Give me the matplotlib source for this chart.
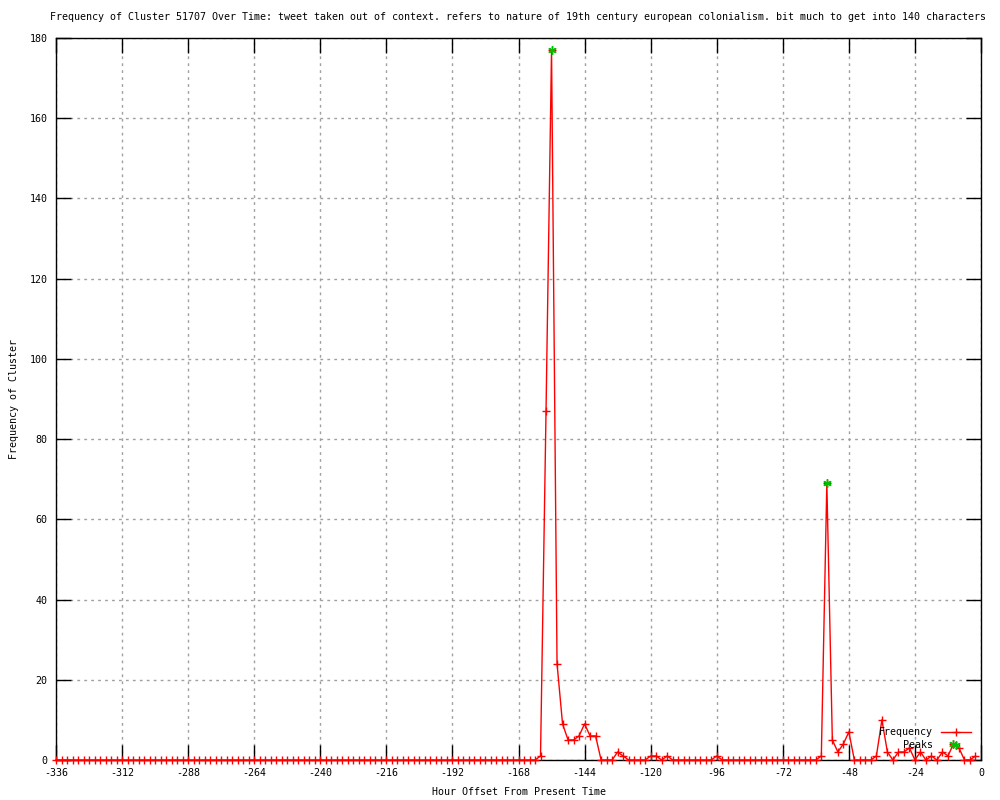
import numpy as np
import matplotlib.pyplot as plt

# hourly buckets, two hours apart, from -336 up to -2
hours = np.arange(-336, 0, 2)

# frequency per bucket, one row per 24 hours
freq = [
    0, 0, 0, 0, 0, 0, 0, 0, 0, 0, 0, 0,          # -336
    0, 0, 0, 0, 0, 0, 0, 0, 0, 0, 0, 0,          # -312
    0, 0, 0, 0, 0, 0, 0, 0, 0, 0, 0, 0,          # -288
    0, 0, 0, 0, 0, 0, 0, 0, 0, 0, 0, 0,          # -264
    0, 0, 0, 0, 0, 0, 0, 0, 0, 0, 0, 0,          # -240
    0, 0, 0, 0, 0, 0, 0, 0, 0, 0, 0, 0,          # -216
    0, 0, 0, 0, 0, 0, 0, 0, 0, 0, 0, 0,          # -192
    0, 0, 0, 0, 1, 87, 177, 24, 9, 5, 5, 6,      # -168
    9, 6, 6, 0, 0, 0, 2, 1, 0, 0, 0, 0,          # -144
    1, 1, 0, 1, 0, 0, 0, 0, 0, 0, 0, 0,          # -120
    1, 0, 0, 0, 0, 0, 0, 0, 0, 0, 0, 0,          # -96
    0, 0, 0, 0, 0, 0, 0, 1, 69, 5, 2, 4,         # -72
    7, 0, 0, 0, 0, 1, 10, 2, 0, 2, 2, 3,         # -48
    0, 2, 0, 1, 0, 2, 1, 4, 3, 0, 0, 1,          # -24
]

peak_hours = [-156, -56, -10]
peak_vals = [177, 69, 4]

title = ("Frequency of Cluster 51707 Over Time: tweet taken out of context. "
         "refers to nature of 19th century european colonialism. "
         "bit much to get into 140 characters")

plt.rcParams['font.family'] = ['DejaVu Sans Mono']
plt.rcParams['font.size'] = 7.2
plt.rcParams['axes.unicode_minus'] = False

fig = plt.figure(figsize=(10, 8), dpi=100)
ax = fig.add_axes([0.056, 0.05, 0.925, 0.9025])

ax.plot(hours, freq, color='red', lw=1, marker='+', ms=5.5, mew=1,
        label='Frequency', clip_on=False, zorder=3)
ax.plot(peak_hours, peak_vals, ls='none', color='#00c000', marker=(6, 2, 0),
        ms=6, mew=1, label='Peaks', clip_on=False, zorder=4)

ax.set_xlim(-336, 0)
ax.set_ylim(0, 180)
ax.set_xticks(np.arange(-336, 1, 24))
ax.set_yticks(np.arange(0, 181, 20))
ax.tick_params(direction='in', length=11, width=1, top=True, right=True,
               labelsize=7.2, pad=6)
ax.grid(True, color='#a0a0a0', ls=(0, (2, 3)), lw=1)
for s in ax.spines.values():
    s.set_linewidth(1)

ax.set_title(title, fontsize=7.2, pad=13)
ax.set_xlabel('Hour Offset From Present Time', labelpad=6)
ax.set_ylabel('Frequency of Cluster', labelpad=8)

ax.legend(loc='lower right', frameon=False, markerfirst=False,
          handlelength=3, labelspacing=0.3, borderaxespad=0.6,
          fontsize=7.2)

fig.savefig('out.png', dpi=100)
